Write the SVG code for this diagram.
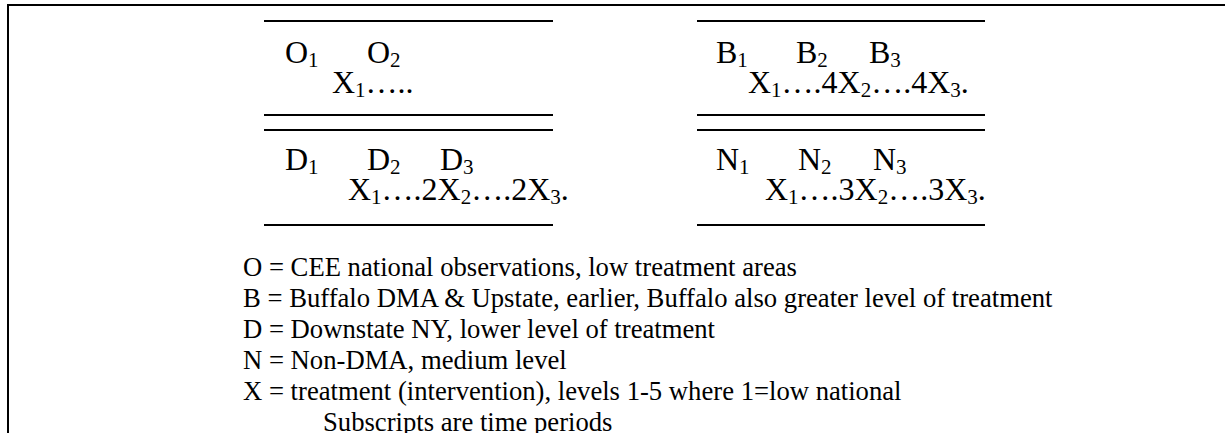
<svg xmlns="http://www.w3.org/2000/svg" width="1225" height="433" viewBox="0 0 1225 433">
<style>
.rule{stroke:#000;stroke-width:2;fill:none}
.t{font-family:'Liberation Serif',serif;font-size:32px;fill:#000}
.s{font-size:21px}
.leg{font-family:'Liberation Serif',serif;font-size:26.67px;fill:#000}
</style>
<rect width="1225" height="433" fill="#fff"/>
<g id="frame">
<line class="rule" x1="7" y1="5" x2="1225" y2="5" stroke-width="2.5"/>
<line class="rule" x1="8" y1="4" x2="8" y2="433"/>
</g>
<g id="block-O">
<line class="rule" x1="264" y1="21" x2="553" y2="21"/>
<text class="t" x="285" y="63">O<tspan class="s" dy="4">1</tspan></text>
<text class="t" x="367" y="63">O<tspan class="s" dy="4">2</tspan></text>
<text class="t" x="332" y="93">X<tspan class="s" dy="4">1</tspan><tspan dy="-4">…..</tspan></text>
<line class="rule" x1="264" y1="115" x2="553" y2="115"/>
</g>
<g id="block-B">
<line class="rule" x1="697" y1="21" x2="985" y2="21"/>
<text class="t" x="716" y="63">B<tspan class="s" dy="4">1</tspan></text>
<text class="t" x="796" y="63">B<tspan class="s" dy="4">2</tspan></text>
<text class="t" x="869" y="63">B<tspan class="s" dy="4">3</tspan></text>
<text class="t" x="748" y="93">X<tspan class="s" dy="4">1</tspan><tspan dy="-4">….4X</tspan><tspan class="s" dy="4">2</tspan><tspan dy="-4">….4X</tspan><tspan class="s" dy="4">3</tspan><tspan dy="-4">.</tspan></text>
<line class="rule" x1="697" y1="115" x2="985" y2="115"/>
</g>
<g id="block-D">
<line class="rule" x1="264" y1="130" x2="553" y2="130"/>
<text class="t" x="285" y="170">D<tspan class="s" dy="4">1</tspan></text>
<text class="t" x="367" y="170">D<tspan class="s" dy="4">2</tspan></text>
<text class="t" x="440" y="170">D<tspan class="s" dy="4">3</tspan></text>
<text class="t" x="348" y="200">X<tspan class="s" dy="4">1</tspan><tspan dy="-4">….2X</tspan><tspan class="s" dy="4">2</tspan><tspan dy="-4">….2X</tspan><tspan class="s" dy="4">3</tspan><tspan dy="-4">.</tspan></text>
<line class="rule" x1="264" y1="225" x2="553" y2="225"/>
</g>
<g id="block-N">
<line class="rule" x1="697" y1="130" x2="985" y2="130"/>
<text class="t" x="716" y="170">N<tspan class="s" dy="4">1</tspan></text>
<text class="t" x="798" y="170">N<tspan class="s" dy="4">2</tspan></text>
<text class="t" x="873" y="170">N<tspan class="s" dy="4">3</tspan></text>
<text class="t" x="765" y="200">X<tspan class="s" dy="4">1</tspan><tspan dy="-4">….3X</tspan><tspan class="s" dy="4">2</tspan><tspan dy="-4">….3X</tspan><tspan class="s" dy="4">3</tspan><tspan dy="-4">.</tspan></text>
<line class="rule" x1="697" y1="225" x2="985" y2="225"/>
</g>
<g id="legend">
<text class="leg" x="243" y="276">O = CEE national observations, low treatment areas</text>
<text class="leg" x="243" y="307">B = Buffalo DMA &amp; Upstate, earlier, Buffalo also greater level of treatment</text>
<text class="leg" x="243" y="338">D = Downstate NY, lower level of treatment</text>
<text class="leg" x="243" y="369">N = Non-DMA, medium level</text>
<text class="leg" x="243" y="400">X = treatment (intervention), levels 1-5 where 1=low national</text>
<text class="leg" x="323" y="431">Subscripts are time periods</text>
</g>
</svg>
